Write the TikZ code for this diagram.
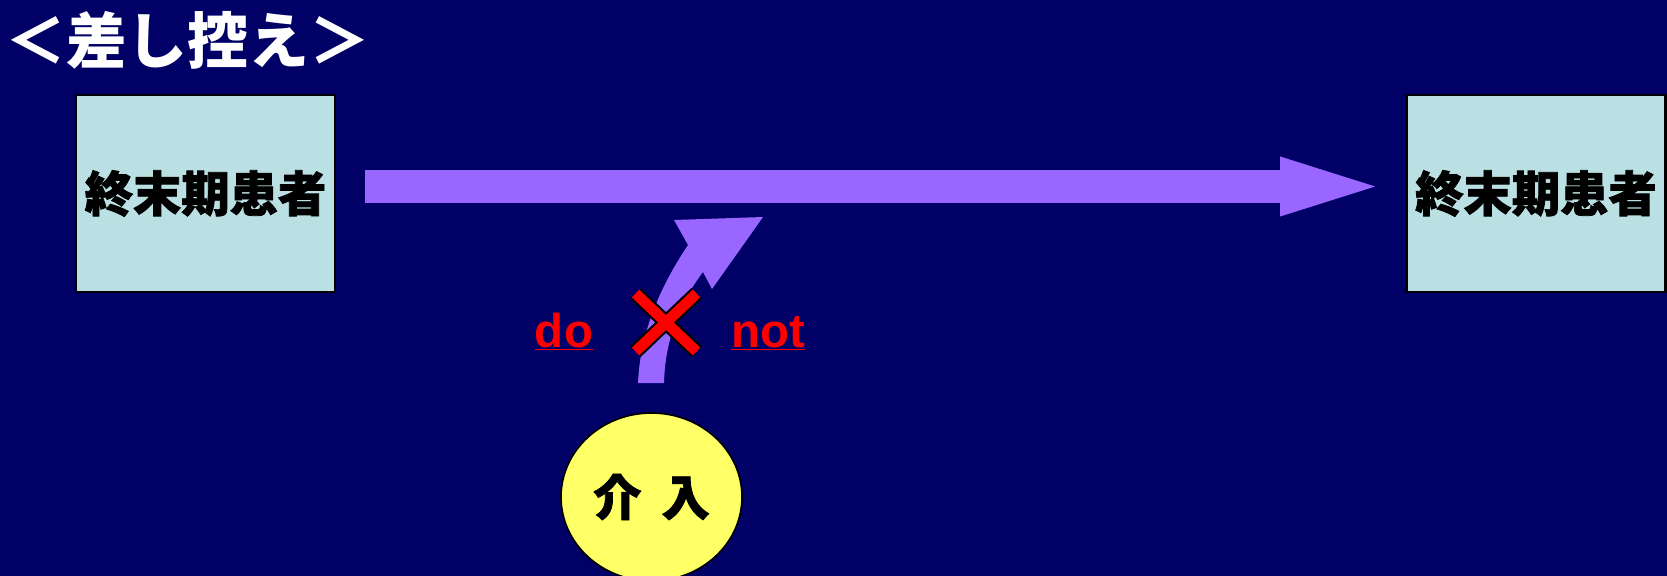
\documentclass[tikz,border=0pt]{standalone}
\usepackage{fontspec}
\setmainfont{Liberation Sans}
\newfontfamily\jpfont{Noto Sans CJK JP}
\newfontfamily\jpblack[FakeBold=1.6]{Noto Sans CJK JP Black}
\usetikzlibrary{arrows.meta, shapes.geometric, positioning}
\definecolor{slideNavy}{HTML}{000066}
\definecolor{boxBlue}{HTML}{BBE0E3}
\definecolor{arrowPurple}{HTML}{9966FF}
\definecolor{callYellow}{HTML}{FFFF66}
\definecolor{warnRed}{HTML}{FF0000}
\tikzset{
  % one unit is one pixel of the slide, y runs downwards
  patientbox/.style = {draw=black, fill=boxBlue, line width=1.6pt,
                       minimum width=155.4pt, minimum height=118.2pt, inner sep=0,
                       font=\jpblack\fontsize{29}{29}\selectfont},
  bigarrow/.style   = {arrowPurple, line width=19.8pt,
                       -{Triangle[length=57pt, width=36pt, line width=0pt]}},
  warnlbl/.style    = {warnRed, inner sep=0, font=\bfseries\fontsize{28.5}{28.5}\selectfont},
  crossline/.style  = {line cap=butt},
}

\begin{document}
\begin{tikzpicture}[x=0.6pt,y=-0.6pt,
    callout/.style={ellipse, draw=black, fill=callYellow, line width=1pt,
                    minimum width=108.6pt, minimum height=100.8pt, inner sep=0,
                    font=\jpblack\fontsize{29}{29}\selectfont}]
  \useasboundingbox (0,0) rectangle (1667,576);
  \fill[slideNavy] (0,0) rectangle (1667,576);
  % --- title ---------------------------------------------------------------
  \node[anchor=west, inner sep=0, white, font=\jpfont\bfseries\fontsize{36.5}{36.5}\selectfont]
    (title) at (5,40) {＜差し控え＞};
  % --- the two patient boxes and the course between them --------------------
  \node[patientbox] (before) at (205.5,193.5) {終末期患者};
  \node[patientbox] (after)  at (1536,193.5)  {終末期患者};
  \draw[bigarrow, shorten <=17.4pt, shorten >=18pt]
    ([yshift=4.2pt]before.east) -- ([yshift=4.2pt]after.west);
  % --- intervention, held back ----------------------------------------------
  \node[callout] (kainyu) at (651.5,497) {介\hspace{12pt}入};
  \fill[arrowPurple] (638,383) .. controls (640,335) and (658,290) .. (688,245)
    -- (674,220) -- (763,217) -- (712,289) -- (703,272)
    .. controls (680,302) and (665,340) .. (664,383) -- cycle;
  \foreach \col/\wd in {black/9pt, warnRed/6.4pt}
    \draw[crossline, \col, line width=\wd] (635.5,293.5) -- (696.5,351.5)
      (696.5,293.5) -- (635.5,351.5);
  \node[warnlbl, anchor=base] (dolbl)  at (564,347) {\underline{do}};
  \node[warnlbl, anchor=base] (notlbl) at (768,347) {\underline{not}};
\end{tikzpicture}
\end{document}
